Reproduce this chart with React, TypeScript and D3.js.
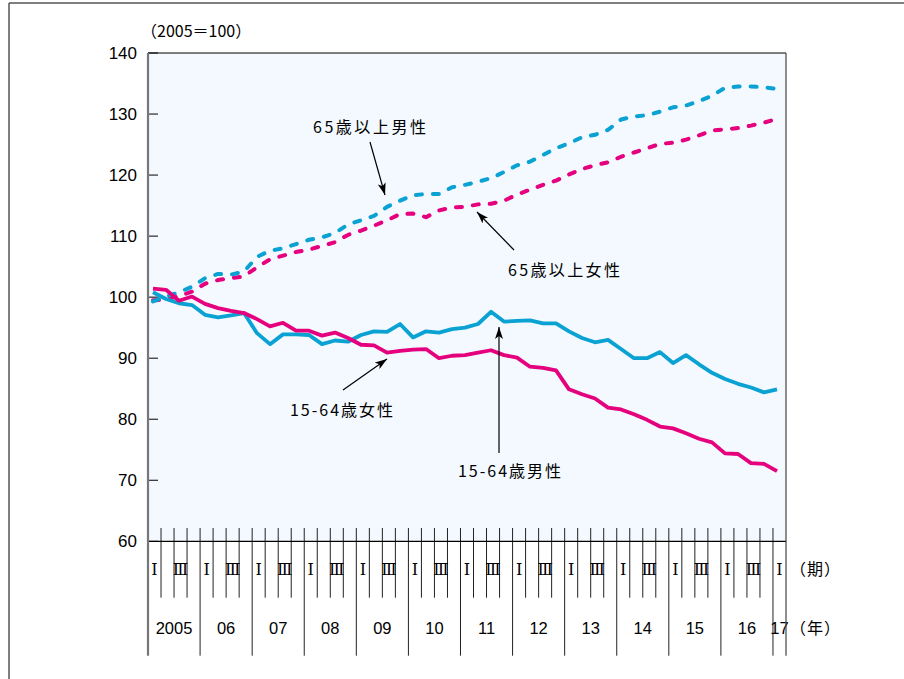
import React from "react";
import * as d3 from "d3";

// ---- data (2005 Q1 .. 2017 Q1, 49 quarters, 2005 = 100) ----
const yearLabels = ["2005", "06", "07", "08", "09", "10", "11", "12", "13", "14", "15", "16", "17"];
const quarterMarks = ["Ⅰ", "", "Ⅲ", ""];
const yTicks = [60, 70, 80, 90, 100, 110, 120, 130, 140];

const male65 = [99.3, 100.1, 100.8, 101.7, 103.1, 103.8, 103.7, 104.2, 106.6, 107.6, 108.0, 108.7, 109.4, 109.8, 110.5, 111.9, 112.6, 113.3, 114.8, 115.8, 116.7, 116.9, 116.9, 118.0, 118.4, 118.9, 119.5, 120.5, 121.6, 122.2, 123.3, 124.4, 125.2, 126.2, 126.6, 127.4, 129.1, 129.6, 129.8, 130.4, 131.1, 131.4, 132.1, 133.0, 134.3, 134.5, 134.5, 134.4, 134.1];
const female65 = [99.5, 99.6, 100.2, 100.9, 102.2, 102.8, 103.1, 103.4, 104.9, 106.2, 106.8, 107.4, 107.8, 108.4, 109.0, 110.2, 110.9, 111.7, 112.6, 113.6, 113.7, 113.1, 114.2, 114.7, 114.8, 115.2, 115.3, 115.8, 116.8, 117.6, 118.4, 119.1, 120.1, 121.0, 121.6, 122.1, 123.0, 123.7, 124.4, 125.1, 125.3, 125.8, 126.5, 127.3, 127.5, 127.7, 128.1, 128.6, 129.2];
const male1564 = [100.8, 99.7, 99.0, 98.7, 97.1, 96.7, 97.0, 97.4, 94.1, 92.3, 93.9, 93.9, 93.8, 92.3, 92.9, 92.7, 93.8, 94.4, 94.3, 95.6, 93.4, 94.4, 94.2, 94.75, 95.0, 95.6, 97.6, 96.0, 96.1, 96.2, 95.7, 95.7, 94.4, 93.3, 92.6, 93.0, 91.5, 90.0, 90.0, 91.0, 89.2, 90.5, 89.0, 87.6, 86.6, 85.8, 85.2, 84.4, 84.9];
const female1564 = [101.4, 101.2, 99.4, 100.1, 98.9, 98.2, 97.75, 97.4, 96.4, 95.2, 95.8, 94.5, 94.5, 93.7, 94.2, 93.3, 92.2, 92.1, 90.9, 91.2, 91.4, 91.5, 90.0, 90.4, 90.5, 90.9, 91.3, 90.5, 90.1, 88.6, 88.4, 88.0, 84.9, 84.1, 83.4, 81.9, 81.6, 80.8, 79.9, 78.8, 78.5, 77.7, 76.8, 76.2, 74.4, 74.3, 72.8, 72.7, 71.5];

const BLUE = "#0AA1D3";
const PINK = "#E5007E";
const JP = "'Noto Sans CJK JP', 'Noto Sans', sans-serif";
const NUM = "'Liberation Sans', Arial, sans-serif";

export default function App() {
  const W = 904, H = 679;
  const L = 148, R = 786, T = 53, B = 541.3;
  const nQ = male65.length; // 49
  const y = d3.scaleLinear().domain([60, 140]).range([B, T]);
  const xb = d3.scaleLinear().domain([0, nQ]).range([L, R]); // quarter boundaries
  const xp = d3.scaleLinear().domain([0, nQ - 1]).range([153, 777]); // data points
  const line = d3.line<number>().x((_, i) => xp(i)).y((d) => y(d));
  const step = xb(1) - xb(0);

  const tickTop = 528, qBottom = 597.7, yrBottom = 655.7;
  const qIdx = d3.range(1, nQ);

  const series = [
    { data: female65, color: PINK, dash: true },
    { data: male65, color: BLUE, dash: true },
    { data: male1564, color: BLUE, dash: false },
    { data: female1564, color: PINK, dash: false },
  ];

  const annotations = [
    { text: "65歳以上男性", tx: 313, ty: 127, w: 113, from: [370, 142], to: [385, 195] },
    { text: "65歳以上女性", tx: 508, ty: 270, w: 112, from: [514, 250], to: [477, 212] },
    { text: "15-64歳女性", tx: 290, ty: 410, w: 103, from: [343, 390], to: [387, 359] },
    { text: "15-64歳男性", tx: 458, ty: 471, w: 103, from: [499, 453], to: [499, 327] },
  ];

  return (
    <svg width={W} height={H} style={{ position: "absolute", left: 0, top: 0, background: "#fff" }}>
      <defs>
        <marker id="arr" viewBox="0 0 12 8" refX="12" refY="4" markerWidth="12" markerHeight="8"
          markerUnits="userSpaceOnUse" orient="auto">
          <path d="M0,0 L12,4 L0,8 L3,4 Z" fill="#000" />
        </marker>
      </defs>
      {/* outer frame */}
      <line x1={9} y1={3} x2={W} y2={3} stroke="#555" strokeWidth={1.5} />
      <line x1={9} y1={3} x2={9} y2={H} stroke="#555" strokeWidth={1.5} />

      {/* plot background */}
      <rect x={L} y={T} width={R - L} height={B - T} fill="#F3F9FF" />

      {/* y axis labels & ticks */}
      {yTicks.map((t) => (
        <g key={t}>
          <line x1={L} x2={L + 10} y1={y(t)} y2={y(t)} stroke="#000" strokeWidth={1} />
          <text x={137} y={y(t)} dy="0.36em" textAnchor="end" fontFamily={NUM} fontSize={17} fill="#000">{t}</text>
        </g>
      ))}
      <text x={141} y={31} dy="0.36em" fontFamily={JP} fontSize={16} fill="#000">（2005＝100）</text>

      {/* quarter ticks */}
      {qIdx.map((k) => (
        <line key={"q" + k} x1={xb(k)} x2={xb(k)} y1={tickTop} y2={k % 4 === 0 ? yrBottom : qBottom}
          stroke="#222" strokeWidth={1} />
      ))}
      {/* quarter labels */}
      {d3.range(nQ).map((k) => {
        const m = quarterMarks[k % 4];
        if (!m) return null;
        return (
          <text key={"ql" + k} x={xb(k) + step / 2} y={569} dy="0.36em" textAnchor="middle"
            fontFamily="'DejaVu Serif', serif" fontSize={16} fill="#000">{m}</text>
        );
      })}
      {/* year labels */}
      {yearLabels.map((yl, i) => {
        const a = xb(i * 4), b = xb(Math.min(i * 4 + 4, nQ));
        return (
          <text key={yl} x={(a + b) / 2} y={628} dy="0.36em" textAnchor="middle" fontFamily={NUM} fontSize={16.5} fill="#000">{yl}</text>
        );
      })}
      <text x={790} y={569} dy="0.36em" fontFamily={JP} fontSize={16} letterSpacing={1} fill="#000">（期）</text>
      <text x={790} y={628} dy="0.36em" fontFamily={JP} fontSize={16} letterSpacing={1} fill="#000">（年）</text>

      {/* frame lines */}
      <line x1={L} x2={R} y1={T} y2={T} stroke="#000" strokeWidth={1.2} />
      <line x1={L} x2={R} y1={B} y2={B} stroke="#000" strokeWidth={1.2} />
      <line x1={R} x2={R} y1={T} y2={yrBottom} stroke="#444" strokeWidth={1.2} />
      <line x1={L} x2={L} y1={T} y2={yrBottom} stroke="#777" strokeWidth={2.2} />

      {/* series */}
      {series.map((s, i) => (
        <path key={i} d={line(s.data) || ""} fill="none" stroke={s.color}
          strokeWidth={s.dash ? 4 : 3.8} strokeDasharray={s.dash ? "6 11" : undefined}
          strokeLinecap={s.dash ? "round" : "butt"} strokeLinejoin="round" />
      ))}

      {/* annotations */}
      {annotations.map((a) => (
        <g key={a.text}>
          <text x={a.tx} y={a.ty} dy="0.36em" fontFamily={JP} fontSize={16} textLength={a.w} fill="#000">{a.text}</text>
          <line x1={a.from[0]} y1={a.from[1]} x2={a.to[0]} y2={a.to[1]} stroke="#000" strokeWidth={1.2} markerEnd="url(#arr)" />
        </g>
      ))}
    </svg>
  );
}
